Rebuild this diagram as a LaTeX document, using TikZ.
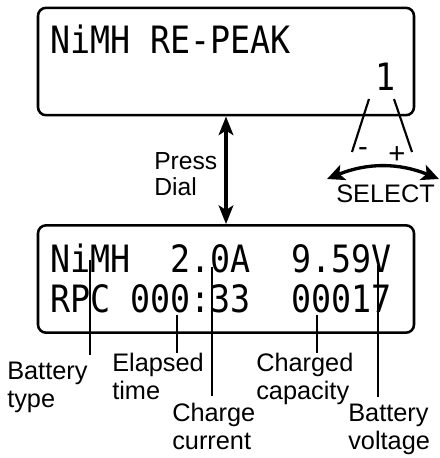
\documentclass[tikz,border=0pt]{standalone}
\usepackage{fontspec}
\setmainfont{Liberation Sans}
\newfontfamily\lcdfont{DejaVu Sans Mono}
\usepackage{tikz}
\usetikzlibrary{arrows.meta,positioning,calc}
\newcommand{\lcdrow}[1]{\scalebox{1}[1.13]{#1}}

\begin{document}
\begin{tikzpicture}[
  x=0.75pt, y=-0.75pt,
  >={Stealth[length=14pt,width=11pt,inset=3.5pt]},
  lcd/.style={draw,line width=1.9pt,rounded corners=6pt,minimum width=282pt,minimum height=80.5pt,inner sep=0pt},
  lcdtext/.style={font=\lcdfont\fontsize{25}{30}\selectfont,inner sep=0pt,anchor=base west},
  lbl/.style={font=\fontsize{19}{21}\selectfont,align=left,inner sep=0pt,anchor=north west},
  lead/.style={line width=1.6pt},
  knob/.style={line width=1.6pt}
]
\useasboundingbox (0,0) rectangle (440,458);
% the two display screens
\node[lcd] (mode) at (226,61.5) {};
\node[lcd] (run) at (226,279) {};
\node[lcdtext] (modetxt) at (50,53) {\lcdrow{NiMH RE-PEAK}};
\node[lcdtext] (count) at (375,90) {\lcdrow{1}};
\node[lcdtext] (row1) at (50,272) {\lcdrow{NiMH~~2.0A~~9.59V}};
\node[lcdtext] (row2) at (50,312) {\lcdrow{RPC 000:33~~00017}};
% press dial
\draw[<->,line width=2.5pt] (mode.south) -- (run.north);
\node[lbl,font=\fontsize{18.5}{19.5}\selectfont] (press) at (154,152) {Press\\Dial};
% select knob
\coordinate (mtop) at (369,99);
\coordinate (mend) at (352,152);
\coordinate (ptop) at (394,99);
\coordinate (pend) at (412,152);
\draw[knob] (mtop) -- (mend);
\draw[knob] (ptop) -- (pend);
\node[font=\fontsize{22}{22}\selectfont,inner sep=0pt] (minus) at (363,152) {-};
\node[font=\fontsize{22}{22}\selectfont,inner sep=0pt] (plus) at (397,155) {+};
\coordinate (selL) at (327,179);
\coordinate (selR) at (439,179);
\draw[{Stealth[length=13pt,width=12pt,inset=3pt]}-{Stealth[length=13pt,width=12pt,inset=3pt]},line width=2.5pt] (selL) to[bend left=22] (selR);
\node[lbl] (select) at (336,185) {SELECT};
% field labels
\node[lbl] (btlab) at (7,362) {Battery\\type};
\node[lbl] (ellab) at (112,353) {Elapsed\\time};
\node[lbl] (cclab) at (172,403) {Charge\\current};
\node[lbl] (caplab) at (256,353) {Charged\\capacity};
\node[lbl] (bvlab) at (348,404) {Battery\\voltage};
\coordinate (bt) at (90,260);
\coordinate (el) at (177,315);
\coordinate (cc) at (212,267);
\coordinate (cap) at (317,315);
\coordinate (bv) at (378,265);
\draw[lead,shorten >=5pt] (bt) -- (btlab.north -| bt);
\draw[lead] (el) -- (ellab.north -| el);
\draw[lead,shorten >=5pt] (cc) -- (cclab.north -| cc);
\draw[lead] (cap) -- (caplab.north -| cap);
\draw[lead,shorten >=5pt] (bv) -- (bvlab.north -| bv);
\end{tikzpicture}
\end{document}
